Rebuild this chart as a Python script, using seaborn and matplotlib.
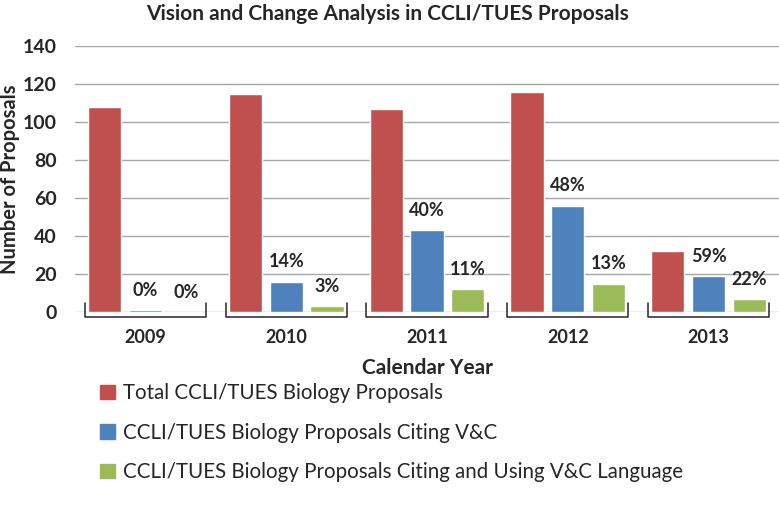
import matplotlib
matplotlib.use('Agg')
import matplotlib.pyplot as plt
import seaborn as sns
import pandas as pd

# Data
years = ['2009', '2010', '2011', '2012', '2013']
total = [108, 115, 107, 116, 32]
citing = [1, 16, 43, 56, 19]
using = [0, 3, 12, 15, 7]
citing_pct = ['0%', '14%', '40%', '48%', '59%']
using_pct = ['0%', '3%', '11%', '13%', '22%']
series_names = ['Total CCLI/TUES Biology Proposals',
                'CCLI/TUES Biology Proposals Citing V&C',
                'CCLI/TUES Biology Proposals Citing and Using V&C Language']

df = pd.DataFrame({
    'year': years * 3,
    'count': total + citing + using,
    'series': [series_names[0]] * 5 + [series_names[1]] * 5 + [series_names[2]] * 5,
})

sns.set_style('white')
plt.rcParams['font.family'] = ['Lato', 'DejaVu Sans']
colors = ['#C0504D', '#4F81BD', '#9BBB59']
txt_col = '#262626'

fig = plt.figure(figsize=(7.79, 5.07), dpi=100)
ax = fig.add_axes([75 / 779, 1 - 312 / 507, 1 - 75 / 779, (312 - 46) / 507])

sns.barplot(data=df, x='year', y='count', hue='series', palette=colors,
            width=0.87, gap=0.19, saturation=1, ax=ax, legend=False)

ax.set_ylim(0, 140)
ax.set_xlim(-0.5, 4.5)
ax.set_yticks(range(0, 141, 20))
ax.yaxis.grid(True, color='#A6A6A6', linewidth=1)
ax.set_axisbelow(True)
for s in ax.spines.values():
    s.set_visible(False)
ax.tick_params(axis='y', length=0, pad=13, labelsize=14)
ax.tick_params(axis='x', length=0, pad=12, labelsize=13)
for lbl in ax.get_yticklabels() + ax.get_xticklabels():
    lbl.set_fontweight('bold')
    lbl.set_color(txt_col)

ax.set_xlabel('Calendar Year', fontsize=15, fontweight='bold', color=txt_col)
ax.xaxis.set_label_coords(0.5, -(358 - 312) / 266)
ax.set_ylabel('Number of Proposals', fontsize=14.5, fontweight='bold', color=txt_col)
ax.yaxis.set_label_coords(-(75 - 20) / 704, 0.5)
ax.set_title('Vision and Change Analysis in CCLI/TUES Proposals', fontsize=15,
             fontweight='bold', color=txt_col, pad=19, x=(387 - 75) / 704)

# percentage labels above blue and green bars
for cont, labels in zip(ax.containers[1:], [citing_pct, using_pct]):
    for bar, txt in zip(cont, labels):
        ax.annotate(txt, (bar.get_x() + bar.get_width() / 2, bar.get_height()),
                    xytext=(0, 8), textcoords='offset points', ha='center', va='bottom',
                    fontsize=13, fontweight='bold', color=txt_col)

# group brackets below the axis
for i in range(len(years)):
    x0, x1 = i - 0.43, i + 0.43
    ax.plot([x0, x0, x1, x1], [4.5, -2.7, -2.7, 4.5], color=txt_col,
            linewidth=1.1, clip_on=False, solid_joinstyle='round')

handles = [plt.Rectangle((0, 0), 1, 1, color=c) for c in colors]
fig.legend(handles, series_names, loc='upper left', bbox_to_anchor=(92 / 779, 1 - 375 / 507),
           frameon=False, fontsize=14.8, handlelength=0.7, handleheight=0.7,
           handletextpad=0.4, labelspacing=0.95, borderaxespad=0)

fig.savefig('out.png', dpi=100)
